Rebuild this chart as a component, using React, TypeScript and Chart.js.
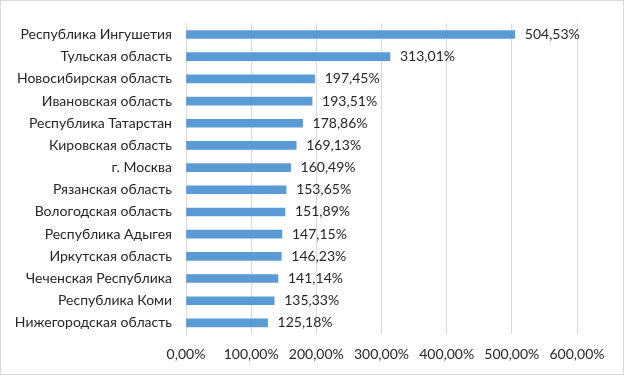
import React, { useEffect, useRef } from "react";
import { Chart, registerables } from "chart.js";

Chart.register(...registerables);

const categories = [
  "Республика Ингушетия",
  "Тульская область",
  "Новосибирская область",
  "Ивановская область",
  "Республика Татарстан",
  "Кировская область",
  "г. Москва",
  "Рязанская область",
  "Вологодская область",
  "Республика Адыгея",
  "Иркутская область",
  "Чеченская Республика",
  "Республика Коми",
  "Нижегородская область",
];

const values = [504.53, 313.01, 197.45, 193.51, 178.86, 169.13, 160.49, 153.65, 151.89, 147.15, 146.23, 141.14, 135.33, 125.18];

const xTickValues = [0, 100, 200, 300, 400, 500, 600];

const fmt = (v: number) => v.toFixed(2).replace(".", ",") + "%";

const FONT = "Lato";
const TEXT = "#262626";

const dataLabels = {
  id: "dataLabels",
  afterDatasetsDraw(chart: any) {
    const ctx = chart.ctx;
    const meta = chart.getDatasetMeta(0);
    ctx.save();
    ctx.font = `14px ${FONT}`;
    ctx.fillStyle = TEXT;
    ctx.textAlign = "left";
    ctx.textBaseline = "middle";
    meta.data.forEach((bar: any, i: number) => {
      ctx.fillText(fmt(values[i]), bar.x + 10, bar.y);
    });
    ctx.restore();
  },
};

export default function App() {
  const ref = useRef<HTMLCanvasElement>(null);
  useEffect(() => {
    if (!ref.current) return;
    const chart = new Chart(ref.current, {
      type: "bar",
      data: {
        labels: categories,
        datasets: [
          {
            data: values,
            backgroundColor: "#5b9bd5",
            borderWidth: 0,
            barThickness: 8,
          },
        ],
      },
      options: {
        indexAxis: "y",
        animation: false,
        responsive: false,
        maintainAspectRatio: false,
        layout: { padding: { top: 18, right: 46, left: 0, bottom: 0 } },
        plugins: { legend: { display: false }, tooltip: { enabled: false } },
        scales: {
          x: {
            min: 0,
            max: 600,
            afterBuildTicks: (scale: any) => {
              scale.ticks = xTickValues.map((v) => ({ value: v }));
            },
            afterFit: (scale: any) => {
              scale.height = 40;
            },
            ticks: {
              callback: (v: any) => fmt(Number(v)),
              font: { family: FONT, size: 14 },
              color: TEXT,
              padding: 12,
              maxRotation: 0,
              autoSkip: false,
            },
            grid: { color: "#d9d9d9", drawTicks: false, lineWidth: 1 },
            border: { display: false },
          },
          y: {
            afterFit: (scale: any) => {
              scale.width = 185;
            },
            ticks: {
              font: { family: FONT, size: 14 },
              color: TEXT,
              padding: 14,
              autoSkip: false,
            },
            grid: { display: false, drawTicks: false },
            border: { display: true, color: "#d9d9d9" },
          },
        },
      },
      plugins: [dataLabels],
    });
    return () => chart.destroy();
  }, []);
  return (
    <div
      style={{
        position: "fixed",
        left: 0,
        top: 0,
        width: 624,
        height: 375,
        boxSizing: "border-box",
        border: "1px solid #d9d9d9",
        background: "#fff",
      }}
    >
      <canvas ref={ref} width={622} height={373} style={{ display: "block" }} />
    </div>
  );
}
